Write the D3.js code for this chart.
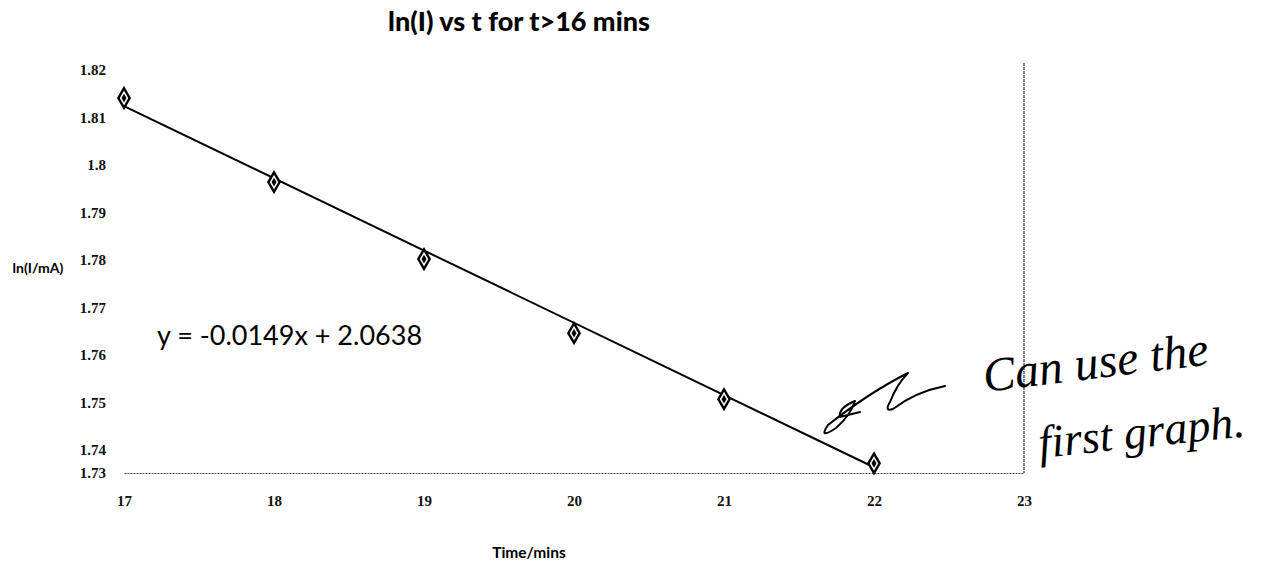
<!DOCTYPE html>
<html><head><meta charset="utf-8">
<script src="https://cdn.jsdelivr.net/npm/d3@7"></script>
<style>
body{margin:0;background:#fff;}
svg{display:block;}
</style></head>
<body>
<svg id="chart" width="1279" height="566"></svg>
<script>
// ---- data ----
const times = [17, 18, 19, 20, 21, 22];
const lnI = [1.8141, 1.7964, 1.7802, 1.7646, 1.7507, 1.7342];
const trendX = [17, 22];
const trendY = [1.8124, 1.7325];
const xTicks = [17, 18, 19, 20, 21, 22, 23];
const xTickLabels = ["17", "18", "19", "20", "21", "22", "23"];
const yTicks = [1.73, 1.74, 1.75, 1.76, 1.77, 1.78, 1.79, 1.8, 1.81, 1.82];
const yTickLabels = ["1.73", "1.74", "1.75", "1.76", "1.77", "1.78", "1.79", "1.8", "1.81", "1.82"];
const titleText = "ln(I) vs t for t>16 mins";
const xTitle = "Time/mins";
const yTitle = "ln(I/mA)";
const equation = "y = -0.0149x + 2.0638";
const note1 = "Can use the";
const note2 = "first graph.";

const svg = d3.select("#chart");
const x = d3.scaleLinear().domain([17, 23]).range([124, 1024]);
// the scanned axis is compressed in its lowest band
const y = d3.scaleLinear().domain([1.73, 1.74, 1.82]).range([473, 450, 70]);

// title
svg.append("text").attr("x", 519).attr("y", 31).attr("text-anchor", "middle")
  .style("font-family", "Lato, 'Open Sans', sans-serif").style("font-weight", "900")
  .style("font-size", "27px").text(titleText);

// x axis (dotted)
const xAxis = d3.axisBottom(x).tickValues(xTicks).tickFormat((d, i) => xTickLabels[i]).tickSize(0).tickPadding(22);
const gx = svg.append("g").attr("transform", `translate(0,${y(1.73)})`).call(xAxis);
gx.select(".domain").attr("stroke", "#444").attr("stroke-width", 1.2).attr("stroke-dasharray", "2,1");
gx.selectAll("text").style("font-family", "'Liberation Serif', serif").style("font-weight", "bold")
  .style("font-size", "15px").attr("fill", "#111");

// y axis (labels only)
const yAxis = d3.axisLeft(y).tickValues(yTicks).tickFormat((d, i) => yTickLabels[i]).tickSize(0).tickPadding(18);
const gy = svg.append("g").attr("transform", `translate(${x(17)},0)`).call(yAxis);
gy.select(".domain").remove();
gy.selectAll("text").style("font-family", "'Liberation Serif', serif").style("font-weight", "bold")
  .style("font-size", "15px").attr("fill", "#111");

// right vertical line at 23
svg.append("line").attr("x1", x(23)).attr("x2", x(23)).attr("y1", 63).attr("y2", y(1.73))
  .attr("stroke", "#333").attr("stroke-width", 1.2).attr("stroke-dasharray", "3,1");

// axis titles
svg.append("text").attr("x", 529).attr("y", 558).attr("text-anchor", "middle")
  .style("font-family", "Lato, sans-serif").style("font-weight", "bold").style("font-size", "15.5px").text(xTitle);
svg.append("text").attr("x", 38).attr("y", 273).attr("text-anchor", "middle")
  .style("font-family", "Lato, sans-serif").style("font-weight", "bold").style("font-size", "14px").text(yTitle);

// trend line
const pts = trendX.map((t, i) => [t, trendY[i]]);
svg.append("path").datum(pts)
  .attr("d", d3.line().x(d => x(d[0])).y(d => y(d[1])))
  .attr("stroke", "#000").attr("stroke-width", 2).attr("fill", "none");

// markers (diamonds)
const sym = d3.symbol().type(d3.symbolDiamond).size(110);
svg.selectAll("path.pt").data(times).join("path").attr("class", "pt")
  .attr("transform", (d, i) => `translate(${x(d)},${y(lnI[i])})`)
  .attr("d", sym).attr("fill", "#fff").attr("stroke", "#000").attr("stroke-width", 2.4);
svg.selectAll("path.pt2").data(times).join("path").attr("class", "pt2")
  .attr("transform", (d, i) => `translate(${x(d)},${y(lnI[i])})`)
  .attr("d", d3.symbol().type(d3.symbolDiamond).size(22)).attr("fill", "#000");

// equation
svg.append("text").attr("x", 157).attr("y", 345)
  .style("font-family", "Lato, 'Open Sans', sans-serif").style("font-size", "27px").text(equation);

// handwritten annotation (arrow)
svg.append("path")
  .attr("d", "M945,386 Q915,392 893,409 Q884,412 890,402 Q897,384 908,373 Q870,392 828,425 Q818,440 836,428 Q850,416 855,401 Q838,408 840,417 L860,412")
  .attr("fill", "none").attr("stroke", "#000").attr("stroke-width", 2)
  .attr("stroke-linecap", "round").attr("stroke-linejoin", "round");

svg.append("text").attr("transform", "translate(985,392) rotate(-7)")
  .style("font-family", "'Liberation Serif', serif").style("font-style", "italic")
  .style("font-size", "48px").text(note1);
svg.append("text").attr("transform", "translate(1040,458) rotate(-6)")
  .style("font-family", "'Liberation Serif', serif").style("font-style", "italic")
  .style("font-size", "46px").text(note2);
</script>
</body></html>
